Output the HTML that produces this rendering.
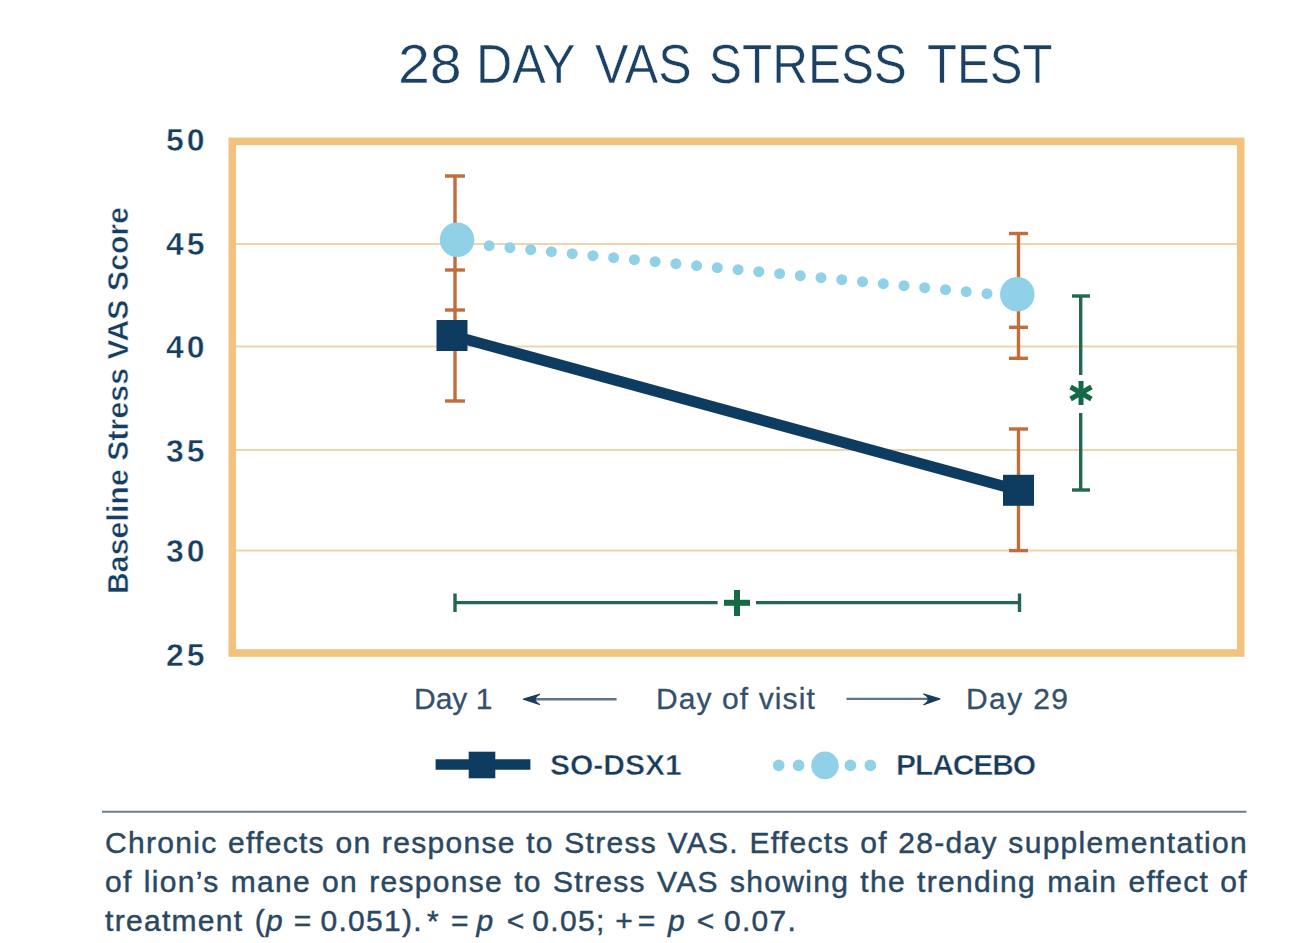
<!DOCTYPE html>
<html>
<head>
<meta charset="utf-8">
<style>
html,body{margin:0;padding:0;background:#ffffff;}
body{width:1315px;height:943px;position:relative;overflow:hidden;font-family:"Liberation Sans",sans-serif;}
.t{position:absolute;white-space:nowrap;line-height:1;}
.tw{top:36px;font-size:56px;color:#1b4264;transform-origin:0 0;-webkit-text-stroke:0.5px #ffffff;}
.c3{top:906px;font-size:30px;color:#2a4862;letter-spacing:1.3px;-webkit-text-stroke:0.45px #2a4862;}
.cap{font-size:30px;color:#2a4862;letter-spacing:1.3px;-webkit-text-stroke:0.45px #2a4862;width:1143px;text-align:justify;text-align-last:justify;}
svg{position:absolute;left:0;top:0;}
</style>
</head>
<body>
<svg width="1315" height="943" viewBox="0 0 1315 943">
  <!-- gridlines -->
  <g stroke="#f1d4ae" stroke-width="2">
    <line x1="236" y1="244" x2="1237" y2="244"/>
    <line x1="236" y1="346.5" x2="1237" y2="346.5"/>
    <line x1="236" y1="450" x2="1237" y2="450"/>
    <line x1="236" y1="550.5" x2="1237" y2="550.5"/>
  </g>
  <!-- frame -->
  <rect x="232.3" y="141.4" width="1008.4" height="511.6" fill="none" stroke="#f2c27e" stroke-width="7.6"/>
  <!-- orange error bars -->
  <g stroke="#bf6e3c" stroke-width="3.4" fill="none">
    <line x1="455" y1="176" x2="455" y2="401"/>
    <line x1="445" y1="176" x2="465" y2="176"/>
    <line x1="445" y1="270" x2="465" y2="270"/>
    <line x1="445" y1="310" x2="465" y2="310"/>
    <line x1="445" y1="401" x2="465" y2="401"/>
    <line x1="1018.5" y1="233.5" x2="1018.5" y2="358.3"/>
    <line x1="1009" y1="233.5" x2="1028" y2="233.5"/>
    <line x1="1009" y1="327.3" x2="1028" y2="327.3"/>
    <line x1="1009" y1="358.3" x2="1028" y2="358.3"/>
    <line x1="1018.5" y1="429" x2="1018.5" y2="550.6"/>
    <line x1="1009" y1="429" x2="1028" y2="429"/>
    <line x1="1009" y1="550.6" x2="1028" y2="550.6"/>
  </g>
  <!-- placebo dots -->
  <g fill="#91d1e8">
<circle cx="489.2" cy="245.7" r="5.5"/>
<circle cx="509.9" cy="247.7" r="5.5"/>
<circle cx="530.7" cy="249.7" r="5.5"/>
<circle cx="551.4" cy="251.7" r="5.5"/>
<circle cx="572.2" cy="253.7" r="5.5"/>
<circle cx="592.9" cy="255.7" r="5.5"/>
<circle cx="613.6" cy="257.7" r="5.5"/>
<circle cx="634.4" cy="259.7" r="5.5"/>
<circle cx="655.1" cy="261.7" r="5.5"/>
<circle cx="675.9" cy="263.7" r="5.5"/>
<circle cx="696.6" cy="265.7" r="5.5"/>
<circle cx="717.3" cy="267.7" r="5.5"/>
<circle cx="738.1" cy="269.7" r="5.5"/>
<circle cx="758.8" cy="271.7" r="5.5"/>
<circle cx="779.6" cy="273.7" r="5.5"/>
<circle cx="800.3" cy="275.7" r="5.5"/>
<circle cx="821.0" cy="277.7" r="5.5"/>
<circle cx="841.8" cy="279.7" r="5.5"/>
<circle cx="862.5" cy="281.7" r="5.5"/>
<circle cx="883.3" cy="283.7" r="5.5"/>
<circle cx="904.0" cy="285.7" r="5.5"/>
<circle cx="924.7" cy="287.7" r="5.5"/>
<circle cx="945.5" cy="289.7" r="5.5"/>
<circle cx="966.2" cy="291.7" r="5.5"/>
<circle cx="987.0" cy="293.7" r="5.5"/>
  </g>
  <circle cx="457" cy="239.8" r="17.3" fill="#91d1e8"/>
  <circle cx="1017.3" cy="294.3" r="17.3" fill="#91d1e8"/>
  <!-- SO-DSX1 -->
  <line x1="452" y1="335.5" x2="1018.5" y2="490.3" stroke="#0e3b60" stroke-width="11"/>
  <rect x="436.5" y="320" width="31" height="31" fill="#0e3b60"/>
  <rect x="1003" y="474.8" width="31" height="31" fill="#0e3b60"/>
  <!-- green significance -->
  <g stroke="#22684f" stroke-width="3.4" fill="none">
    <line x1="1080.7" y1="296" x2="1080.7" y2="375"/>
    <line x1="1080.7" y1="413" x2="1080.7" y2="490"/>
    <line x1="1072" y1="296" x2="1090" y2="296"/>
    <line x1="1072" y1="490" x2="1090" y2="490"/>
    <line x1="455" y1="602.6" x2="717.6" y2="602.6"/>
    <line x1="756" y1="602.6" x2="1019.5" y2="602.6"/>
    <line x1="455" y1="593.5" x2="455" y2="612"/>
    <line x1="1019.5" y1="593.5" x2="1019.5" y2="612"/>
  </g>
  <g stroke="#136a44" stroke-width="6" fill="none">
    <line x1="724" y1="602.8" x2="750" y2="602.8"/>
    <line x1="737" y1="590" x2="737" y2="616"/>
  </g>
  <g stroke="#136a44" stroke-width="5" fill="none">
    <line x1="1081" y1="381" x2="1081" y2="405"/>
    <line x1="1070.6" y1="387" x2="1091.4" y2="399"/>
    <line x1="1070.6" y1="399" x2="1091.4" y2="387"/>
  </g>
  <!-- x-axis arrows -->
  <g stroke="#627587" stroke-width="2.4" fill="none">
    <line x1="528" y1="699.2" x2="616.6" y2="699.2"/>
    <line x1="846.4" y1="698.9" x2="935" y2="698.9"/>
  </g>
  <g fill="#1a3d5e" stroke="#1a3d5e" stroke-width="1.3" stroke-linejoin="round">
    <path d="M523.5,699.1 L539.5,694.4 Q530.5,699.1 539.5,704.5 Z"/>
    <path d="M939.8,698.9 L923.8,694.0 Q932.8,698.9 923.8,704.7 Z"/>
  </g>
  <!-- legend -->
  <line x1="435.6" y1="764.5" x2="530.4" y2="764.5" stroke="#0e3b60" stroke-width="10.6"/>
  <rect x="468.7" y="751.7" width="26.6" height="26.6" fill="#0e3b60"/>
  <g fill="#91d1e8">
    <circle cx="778.7" cy="765.4" r="5.8"/>
    <circle cx="798.6" cy="765.4" r="5.8"/>
    <circle cx="825" cy="765.4" r="13.8"/>
    <circle cx="850.4" cy="765.4" r="5.8"/>
    <circle cx="870.3" cy="765.4" r="5.8"/>
  </g>
  <!-- separator -->
  <line x1="102" y1="811.7" x2="1246.5" y2="811.7" stroke="#6d7e8b" stroke-width="2"/>
</svg>

<div class="t tw" style="left:397.6px;transform:scaleX(1.023);">28</div>
<div class="t tw" style="left:476.2px;transform:scaleX(0.896);">DAY</div>
<div class="t tw" style="left:595.0px;transform:scaleX(0.895);">VAS</div>
<div class="t tw" style="left:709.3px;transform:scaleX(0.883);">STRESS</div>
<div class="t tw" style="left:927.0px;transform:scaleX(0.876);">TEST</div>


<div class="t yl" style="left:166px;top:124px;font-size:32px;font-weight:bold;color:#163e61;letter-spacing:3px;-webkit-text-stroke:0.5px #fff;">50</div>
<div class="t yl" style="left:166px;top:228px;font-size:32px;font-weight:bold;color:#163e61;letter-spacing:3px;-webkit-text-stroke:0.5px #fff;">45</div>
<div class="t yl" style="left:166px;top:331px;font-size:32px;font-weight:bold;color:#163e61;letter-spacing:3px;-webkit-text-stroke:0.5px #fff;">40</div>
<div class="t yl" style="left:166px;top:435px;font-size:32px;font-weight:bold;color:#163e61;letter-spacing:3px;-webkit-text-stroke:0.5px #fff;">35</div>
<div class="t yl" style="left:166px;top:535px;font-size:32px;font-weight:bold;color:#163e61;letter-spacing:3px;-webkit-text-stroke:0.5px #fff;">30</div>
<div class="t yl" style="left:166px;top:639px;font-size:32px;font-weight:bold;color:#163e61;letter-spacing:3px;-webkit-text-stroke:0.5px #fff;">25</div>

<div class="t" id="ylab" style="left:0;top:0;font-size:30px;font-weight:bold;color:#163e61;-webkit-text-stroke:0.5px #fff;transform-origin:0 0;transform:translate(103px,594px) rotate(-90deg);letter-spacing:0.17px;">Baseline Stress VAS Score</div>

<div class="t" style="left:414px;top:684px;font-size:30px;color:#34506b;-webkit-text-stroke:0.3px #34506b;">Day 1</div>
<div class="t" style="left:656px;top:684px;font-size:30px;color:#34506b;letter-spacing:1.1px;-webkit-text-stroke:0.3px #34506b;">Day of visit</div>
<div class="t" style="left:966px;top:684px;font-size:30px;color:#34506b;letter-spacing:1.4px;-webkit-text-stroke:0.3px #34506b;">Day 29</div>

<div class="t" style="left:550px;top:750px;font-size:30px;font-weight:bold;color:#1a3c5c;-webkit-text-stroke:0.5px #fff;">SO-DSX1</div>
<div class="t" style="left:896px;top:750px;font-size:30px;font-weight:bold;color:#1a3c5c;-webkit-text-stroke:0.5px #fff;letter-spacing:-1.1px;">PLACEBO</div>

<div class="t cap" style="left:105px;top:828px;">Chronic effects on response to Stress VAS. Effects of 28-day supplementation</div>
<div class="t cap" style="left:105px;top:867px;">of lion’s mane on response to Stress VAS showing the trending main effect of</div>
<div class="t c3" style="left:105.0px;">treatment</div><div class="t c3" style="left:254.8px;">(<i>p</i></div><div class="t c3" style="left:293.7px;">=</div><div class="t c3" style="left:320.5px;">0.051).</div><div class="t c3" style="left:426.9px;">*</div><div class="t c3" style="left:450.9px;">=</div><div class="t c3" style="left:476.4px;"><i>p</i></div><div class="t c3" style="left:506.8px;">&lt;</div><div class="t c3" style="left:532.3px;">0.05;</div><div class="t c3" style="left:615.3px;">+</div><div class="t c3" style="left:637.7px;">=</div><div class="t c3" style="left:668.0px;"><i>p</i></div><div class="t c3" style="left:696.8px;">&lt;</div><div class="t c3" style="left:724.0px;">0.07.</div>
</body>
</html>
